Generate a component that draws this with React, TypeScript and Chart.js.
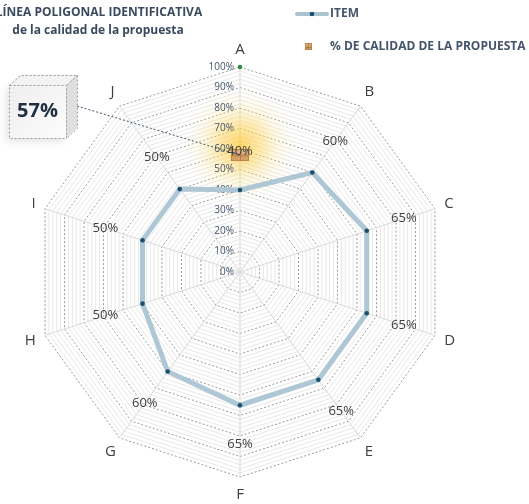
import React, { useEffect, useRef } from "react";
import { Chart, registerables } from "chart.js";

Chart.register(...registerables);

const categories = ["A", "B", "C", "D", "E", "F", "G", "H", "I", "J"];
const itemValues = [40, 60, 65, 65, 65, 65, 60, 50, 50, 50];
const calidadValues = [57, null, null, null, null, null, null, null, null, null];
const referenceValues = [100, null, null, null, null, null, null, null, null, null];
const tickValues = [0, 10, 20, 30, 40, 50, 60, 70, 80, 90, 100];
const calloutText = "57%";
const titleLines = ["LÍNEA POLIGONAL IDENTIFICATIVA", "de la calidad de la propuesta"];
const legendLabels = ["ITEM", "% DE CALIDAD DE LA PROPUESTA"];

const FONT = '"Open Sans", "Noto Sans", sans-serif';
const TEXT = "#44546a";

function makeBox(w: number, h: number) {
  const c = document.createElement("canvas");
  c.width = w;
  c.height = h;
  const g = c.getContext("2d")!;
  g.fillStyle = "#d4a068";
  g.fillRect(0, 0, w, h);
  g.fillStyle = "#e0b584";
  g.fillRect(0, 0, w, Math.max(2, Math.round(h * 0.3)));
  g.strokeStyle = "rgba(160,105,50,0.6)";
  g.lineWidth = 1;
  g.beginPath();
  g.moveTo(Math.floor(w / 2) + 0.5, 0);
  g.lineTo(Math.floor(w / 2) + 0.5, h);
  g.moveTo(0, Math.round(h * 0.5) + 0.5);
  g.lineTo(w, Math.round(h * 0.5) + 0.5);
  g.stroke();
  g.strokeStyle = "rgba(185,125,65,0.9)";
  g.strokeRect(0.5, 0.5, w - 1, h - 1);
  return c;
}

const customPlugin = {
  id: "customDraw",
  beforeDatasetsDraw(chart: any) {
    const s = chart.scales.r;
    const ctx = chart.ctx;
    ctx.save();
    // glow around quality point
    const qv = calidadValues[0] as number;
    const p = s.getPointPosition(0, s.getDistanceFromCenterForValue(qv));
    const gx = p.x;
    const gy = p.y - 10;
    const R = 56;
    const grad = ctx.createRadialGradient(gx, gy, 0, gx, gy, R);
    grad.addColorStop(0, "rgba(255,200,50,0.72)");
    grad.addColorStop(0.35, "rgba(255,210,80,0.5)");
    grad.addColorStop(0.7, "rgba(255,225,130,0.18)");
    grad.addColorStop(1, "rgba(255,235,170,0)");
    ctx.fillStyle = grad;
    ctx.beginPath();
    ctx.arc(gx, gy, R, 0, Math.PI * 2);
    ctx.fill();

    // tick labels
    ctx.font = `10px ${FONT}`;
    ctx.fillStyle = TEXT;
    ctx.textAlign = "right";
    ctx.textBaseline = "middle";
    tickValues.forEach((v) => {
      const d = s.getDistanceFromCenterForValue(v);
      ctx.fillText(v + "%", s.xCenter - 6, s.yCenter - d);
    });

    // point labels
    ctx.font = `15px ${FONT}`;
    ctx.fillStyle = "#3f3f3f";
    ctx.textAlign = "center";
    ctx.textBaseline = "middle";
    const outer = s.getDistanceFromCenterForValue(100);
    categories.forEach((lab, i) => {
      const pos = s.getPointPosition(i, outer + 10);
      const ang = s.getIndexAngle(i);
      const w = ctx.measureText(lab).width;
      const h = 15;
      const x = pos.x + Math.sin(ang) * w / 2;
      const y = pos.y - Math.cos(ang) * h / 2;
      ctx.fillText(lab, x, y);
    });
    ctx.restore();
  },
  afterDatasetsDraw(chart: any) {
    const s = chart.scales.r;
    const ctx = chart.ctx;
    ctx.save();
    // data labels
    ctx.font = `13px ${FONT}`;
    ctx.fillStyle = "#404040";
    ctx.textAlign = "center";
    ctx.textBaseline = "middle";
    itemValues.forEach((v, i) => {
      const pos = s.getPointPosition(i, s.getDistanceFromCenterForValue(v) + 39);
      ctx.fillText(v + "%", pos.x, pos.y);
    });

    // leader line
    const qv = calidadValues[0] as number;
    const p = s.getPointPosition(0, s.getDistanceFromCenterForValue(qv));
    ctx.strokeStyle = "#3e5468";
    ctx.lineWidth = 1;
    ctx.setLineDash([2, 2]);
    ctx.beginPath();
    ctx.moveTo(77, 106);
    ctx.lineTo(p.x, p.y);
    ctx.stroke();

    // callout box
    const fx = 9, fy = 85, fw = 57, fh = 53, dx = 11, dy = 10;
    ctx.setLineDash([]);
    ctx.save();
    ctx.shadowColor = "rgba(0,0,0,0.12)";
    ctx.shadowBlur = 8;
    ctx.shadowOffsetX = -2;
    ctx.shadowOffsetY = 3;
    const fg = ctx.createLinearGradient(fx, fy, fx + fw, fy + fh);
    fg.addColorStop(0, "#eeeeee");
    fg.addColorStop(1, "#fcfcfc");
    ctx.fillStyle = fg;
    ctx.fillRect(fx, fy, fw, fh);
    ctx.restore();
    ctx.fillStyle = "#f2f2f2";
    ctx.beginPath();
    ctx.moveTo(fx, fy);
    ctx.lineTo(fx + dx, fy - dy);
    ctx.lineTo(fx + fw + dx, fy - dy);
    ctx.lineTo(fx + fw, fy);
    ctx.closePath();
    ctx.fill();
    ctx.fillStyle = "#dfdfdf";
    ctx.beginPath();
    ctx.moveTo(fx + fw, fy);
    ctx.lineTo(fx + fw + dx, fy - dy);
    ctx.lineTo(fx + fw + dx, fy + fh - dy);
    ctx.lineTo(fx + fw, fy + fh);
    ctx.closePath();
    ctx.fill();
    ctx.strokeStyle = "#9a9a9a";
    ctx.setLineDash([2, 2]);
    ctx.beginPath();
    ctx.rect(fx + 0.5, fy + 0.5, fw, fh);
    ctx.moveTo(fx + 0.5, fy + 0.5);
    ctx.lineTo(fx + dx + 0.5, fy - dy + 0.5);
    ctx.lineTo(fx + fw + dx + 0.5, fy - dy + 0.5);
    ctx.lineTo(fx + fw + 0.5, fy + 0.5);
    ctx.moveTo(fx + fw + dx + 0.5, fy - dy + 0.5);
    ctx.lineTo(fx + fw + dx + 0.5, fy + fh - dy + 0.5);
    ctx.lineTo(fx + fw + 0.5, fy + fh + 0.5);
    ctx.stroke();
    ctx.setLineDash([]);
    ctx.font = `bold 20px ${FONT}`;
    ctx.fillStyle = "#1f2f40";
    ctx.textAlign = "center";
    ctx.textBaseline = "middle";
    ctx.fillText(calloutText, fx + fw / 2, fy + 26);

    // title
    ctx.font = `bold 12px ${FONT}`;
    ctx.fillStyle = "#3a4a5e";
    ctx.fillText(titleLines[0], 99, 13);
    ctx.fillText(titleLines[1], 98, 31);

    // legend
    ctx.strokeStyle = "#a9c3d0";
    ctx.lineWidth = 4;
    ctx.lineCap = "round";
    ctx.beginPath();
    ctx.moveTo(297, 14);
    ctx.lineTo(327, 14);
    ctx.stroke();
    ctx.fillStyle = "#1b4f6e";
    ctx.beginPath();
    ctx.arc(312, 14, 2.3, 0, Math.PI * 2);
    ctx.fill();
    ctx.drawImage(makeBox(7, 7), 305, 43);
    ctx.font = `bold 12px ${FONT}`;
    ctx.fillStyle = TEXT;
    ctx.textAlign = "left";
    ctx.fillText(legendLabels[0], 330, 14);
    ctx.fillText(legendLabels[1], 330, 47);
    ctx.restore();
  },
};

export default function App() {
  const ref = useRef<HTMLCanvasElement>(null);
  useEffect(() => {
    const chart = new Chart(ref.current!, {
      type: "radar",
      data: {
        labels: categories,
        datasets: [
          {
            label: legendLabels[0],
            data: itemValues,
            borderColor: "#aec7d4",
            borderWidth: 5,
            backgroundColor: "rgba(0,0,0,0)",
            fill: false,
            pointRadius: 2.3,
            pointBorderWidth: 0,
            pointBackgroundColor: "#1b4f6e",
            tension: 0,
          },
          {
            label: legendLabels[1],
            data: calidadValues,
            showLine: false,
            pointStyle: makeBox(18, 12) as any,
            pointRadius: 9,
            backgroundColor: "#d4a068",
            borderColor: "#d4a068",
          },
          {
            label: "ref",
            data: referenceValues,
            showLine: false,
            pointRadius: 2.3,
            pointBorderWidth: 0,
            pointBackgroundColor: "#2e8b3e",
          },
        ],
      },
      options: {
        responsive: false,
        animation: false,
        events: [],
        layout: { padding: { left: 35, right: 84, top: 67, bottom: 27 } },
        plugins: { legend: { display: false }, title: { display: false }, tooltip: { enabled: false } },
        scales: {
          r: {
            min: 0,
            max: 100,
            beginAtZero: true,
            ticks: { display: false, stepSize: 2 },
            pointLabels: { display: false },
            angleLines: { color: "#d9d9d9", lineWidth: 1 },
            grid: {
              circular: false,
              lineWidth: 1,
              color: (c: any) => (c.tick && c.tick.value % 10 === 0 ? "#999999" : "#e8e8e8"),
            },
            border: {
              dash: (c: any) => (c.tick && c.tick.value % 10 === 0 ? [2, 2] : []),
            },
          },
        },
      },
      plugins: [customPlugin],
    });
    return () => chart.destroy();
  }, []);
  return (
    <div style={{ position: "fixed", left: 0, top: 0, width: 529, height: 504, background: "#fff" }}>
      <canvas ref={ref} width={529} height={504} style={{ display: "block" }} />
    </div>
  );
}
